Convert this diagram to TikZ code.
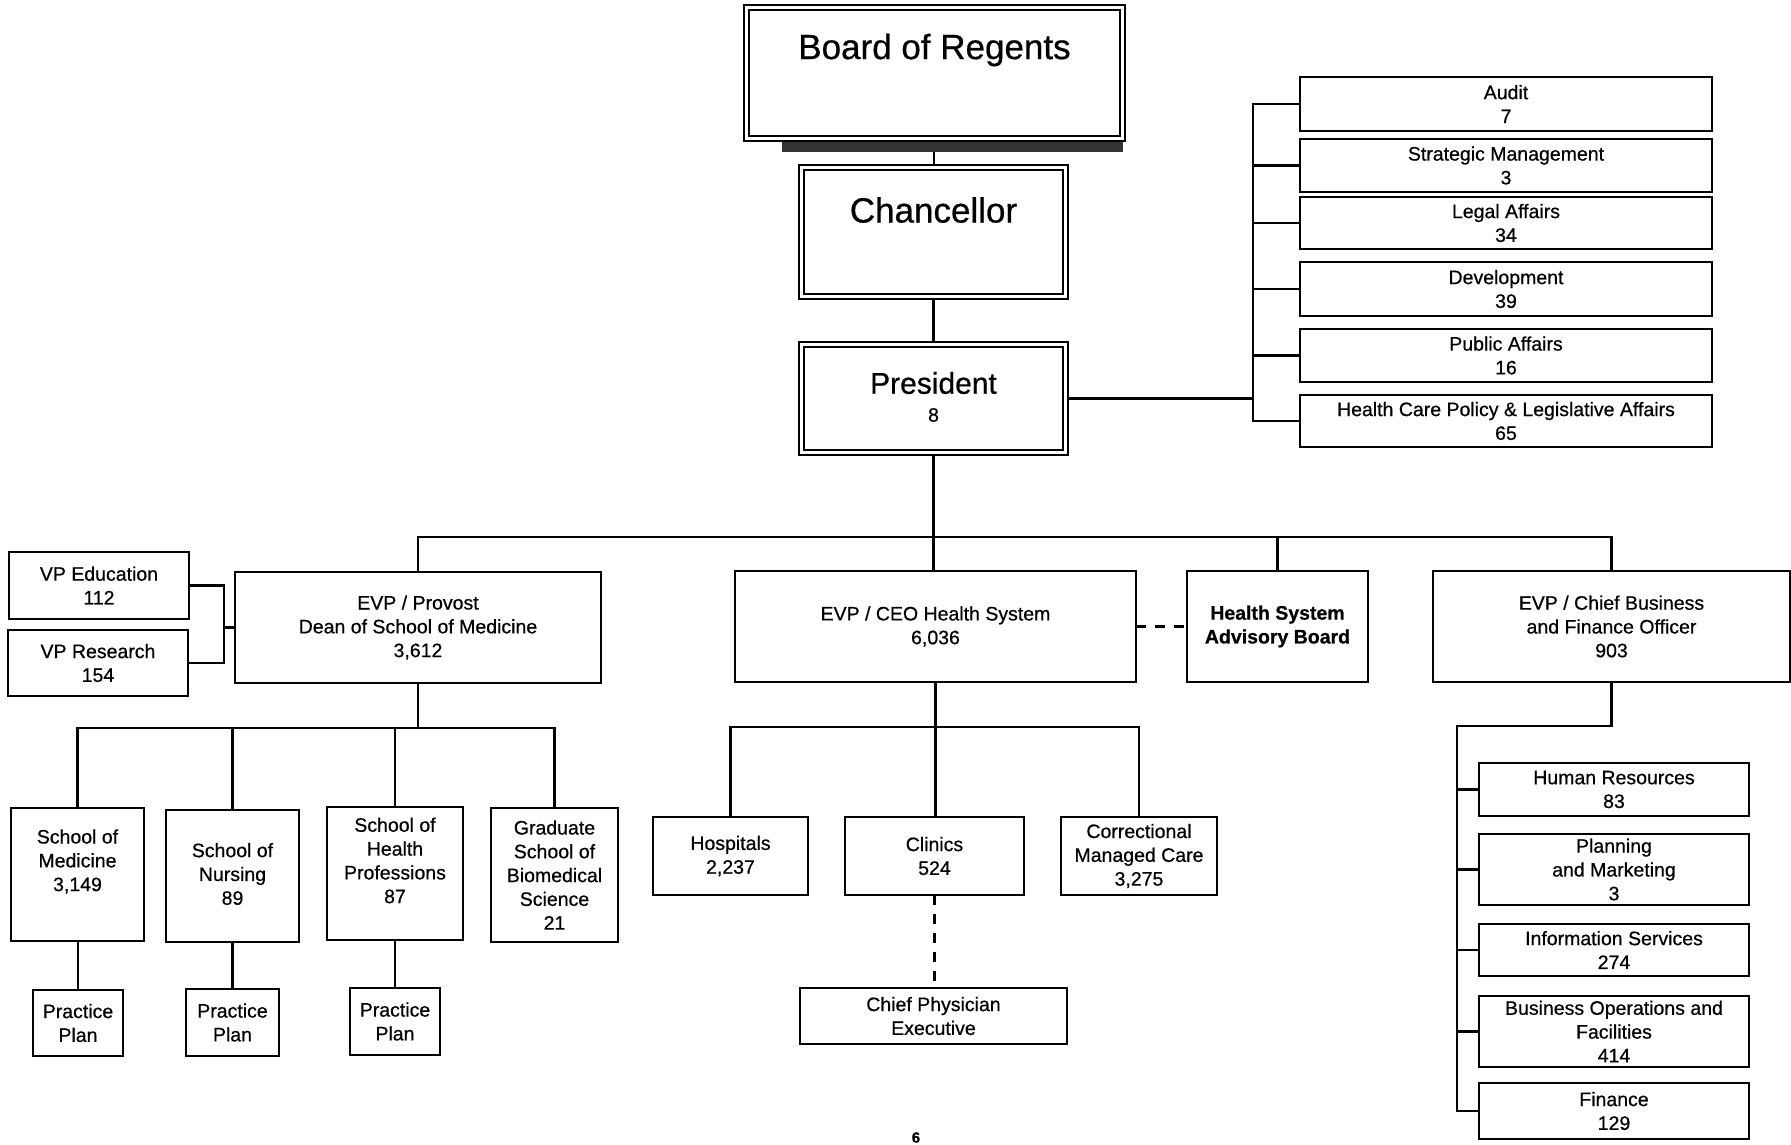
\documentclass[tikz,border=0pt]{standalone}
\usepackage{fontspec}
\setmainfont{Liberation Sans}[FakeBold=0.6]
\begin{document}
\begin{tikzpicture}[x=1pt,y=-1pt,
  box/.style={draw,line width=2.8pt,inner sep=0pt,outer sep=0pt},
  inbox/.style={draw,line width=1.8pt,inner sep=0pt,outer sep=0pt},
  conn/.style={line width=2.2pt},
  dsh/.style={line width=2.2pt,dash pattern=on 10pt off 9pt},
  txt/.style={align=center,font=\fontsize{19.5}{23.8}\selectfont,inner sep=0pt},
  big/.style={align=center,font=\fontsize{35}{40}\selectfont,inner sep=0pt},
]
\newcommand\bx[7]{%
  \node[box,minimum width={#4-#2},minimum height={#5-#3}] (#1) at ({(#2+#4)/2},{(#3+#5)/2}) {};
  \node[txt] (#1-t) at ({(#2+#4)/2},{(#3+#5)/2+#6}) {#7};}
\newcommand\dbx[5]{%
  \node[box,minimum width={#4-#2},minimum height={#5-#3}] (#1) at ({(#2+#4)/2},{(#3+#5)/2}) {};
  \node[inbox,minimum width={#4-#2-10},minimum height={#5-#3-10}] (#1-in) at ({(#2+#4)/2},{(#3+#5)/2}) {};}
\useasboundingbox (0,0) rectangle (1791,1144);

% top chain
\fill[black!80] (782,141) rectangle (1123,152);
\dbx{board}{744}{5}{1125}{141}
\node[big] (board-t) at (934.5,50) {Board of Regents};
\dbx{chan}{799}{165}{1068}{299}
\node[big] (chan-t) at (933.5,210) {Chancellor};
\dbx{pres}{799}{342}{1068}{455}
\node[align=center,inner sep=0pt,font=\fontsize{30}{34}\selectfont] (pres-t) at (933.5,383) {President};
\node[txt] (pres-n) at (933.5,415) {8};

% staff column
\bx{audit}{1300}{77}{1712}{131}{0}{Audit\\7}
\bx{strat}{1300}{139}{1712}{192}{0}{Strategic Management\\3}
\bx{legal}{1300}{197}{1712}{249}{0}{Legal Affairs\\34}
\bx{dev}{1300}{262}{1712}{316}{0}{Development\\39}
\bx{pub}{1300}{329}{1712}{382}{0}{Public Affairs\\16}
\bx{hcp}{1300}{395}{1712}{447}{0}{Health Care Policy \& Legislative Affairs\\65}

% second level
\bx{vped}{9}{552}{189}{619}{0}{VP Education\\112}
\bx{vpres}{8}{630}{188}{696}{0}{VP Research\\154}
\bx{prov}{235}{572}{601}{683}{0}{EVP / Provost\\Dean of School of Medicine\\3,612}
\bx{ceo}{735}{571}{1136}{682}{0}{EVP / CEO Health System\\6,036}
\bx{hsab}{1187}{571}{1368}{682}{0}{{\bfseries Health System}\\{\bfseries Advisory Board}}
\bx{cbo}{1433}{571}{1790}{682}{0}{EVP / Chief Business\\and Finance Officer\\903}

% schools
\bx{som}{11}{808}{144}{941}{-13}{School of\\Medicine\\3,149}
\bx{son}{166}{810}{299}{942}{-2}{School of\\Nursing\\89}
\bx{shp}{327}{807}{463}{940}{-13}{School of\\Health\\Professions\\87}
\bx{gsbs}{491}{808}{618}{942}{0}{Graduate\\School of\\Biomedical\\Science\\21}
\bx{ppa}{33}{990}{123}{1056}{0}{Practice\\Plan}
\bx{ppb}{186}{989}{279}{1056}{0}{Practice\\Plan}
\bx{ppc}{350}{988}{440}{1055}{0}{Practice\\Plan}

% health system
\bx{hosp}{653}{817}{808}{895}{0}{Hospitals\\2,237}
\bx{clin}{845}{817}{1024}{895}{0}{Clinics\\524}
\bx{corr}{1061}{817}{1217}{895}{0}{Correctional\\Managed Care\\3,275}
\bx{cpe}{800}{988}{1067}{1044}{0}{Chief Physician\\Executive}

% business
\bx{hr}{1479}{763}{1749}{816}{0}{Human Resources\\83}
\bx{plan}{1479}{834}{1749}{905}{0}{Planning\\and Marketing\\3}
\bx{info}{1479}{924}{1749}{976}{0}{Information Services\\274}
\bx{biz}{1479}{996}{1749}{1067}{0}{Business Operations and\\Facilities\\414}
\bx{fin}{1479}{1083}{1749}{1139}{0}{Finance\\129}

\node[inner sep=0pt,anchor=south,font=\bfseries\fontsize{15}{17}\selectfont] (page) at (916,1143) {6};

% coordinates
\coordinate (shb) at (934,152);
\coordinate (rb) at (1253,0);
\coordinate (bus) at (0,537);
\coordinate (vb) at (224,0);
\coordinate (pbus) at (0,728);
\coordinate (cbus) at (0,727);
\coordinate (cb) at (1457,726);

% connectors
\draw[conn] (shb) -- (shb |- chan.north);
\draw[conn] (chan) -- (pres);
\draw[conn] (pres.east) -- (pres.east -| rb);
\draw[conn] (audit.west) -- (audit.west -| rb) -- (hcp.west -| rb) -- (hcp.west);
\foreach \n in {strat,legal,dev,pub} \draw[conn] (\n.west) -- (\n.west -| rb);

\draw[conn] (pres.south) -- (pres.south |- ceo.north);
\draw[conn] (prov.north) -- (prov.north |- bus) -- (cbo.north |- bus) -- (cbo.north);
\draw[conn] (hsab.north) -- (hsab.north |- bus);

\draw[conn] (vped.east) -- (vped.east -| vb) -- (vpres.east -| vb) -- (vpres.east);
\draw[conn] (prov.west) -- (prov.west -| vb);

\draw[conn] (prov.south) -- (prov.south |- pbus);
\draw[conn] (som.north) -- (som.north |- pbus) -- (gsbs.north |- pbus) -- (gsbs.north);
\draw[conn] (son.north) -- (son.north |- pbus);
\draw[conn] (shp.north) -- (shp.north |- pbus);
\draw[conn] (ppa.north) -- (ppa.north |- som.south);
\draw[conn] (ppb.north) -- (ppb.north |- son.south);
\draw[conn] (ppc.north) -- (ppc.north |- shp.south);

\draw[dsh] (ceo.east) -- (hsab.west);
\draw[conn] (ceo.south) -- (ceo.south |- clin.north);
\draw[conn] (hosp.north) -- (hosp.north |- cbus) -- (corr.north |- cbus) -- (corr.north);
\draw[dsh] (clin.south) -- (clin.south |- cpe.north);

\draw[conn] (cbo.south) -- (cbo.south |- cb) -- (cb) -- (cb |- fin.west) -- (fin.west);
\foreach \n in {hr,plan,info,biz} \draw[conn] (\n.west) -- (\n.west -| cb);
\end{tikzpicture}
\end{document}
